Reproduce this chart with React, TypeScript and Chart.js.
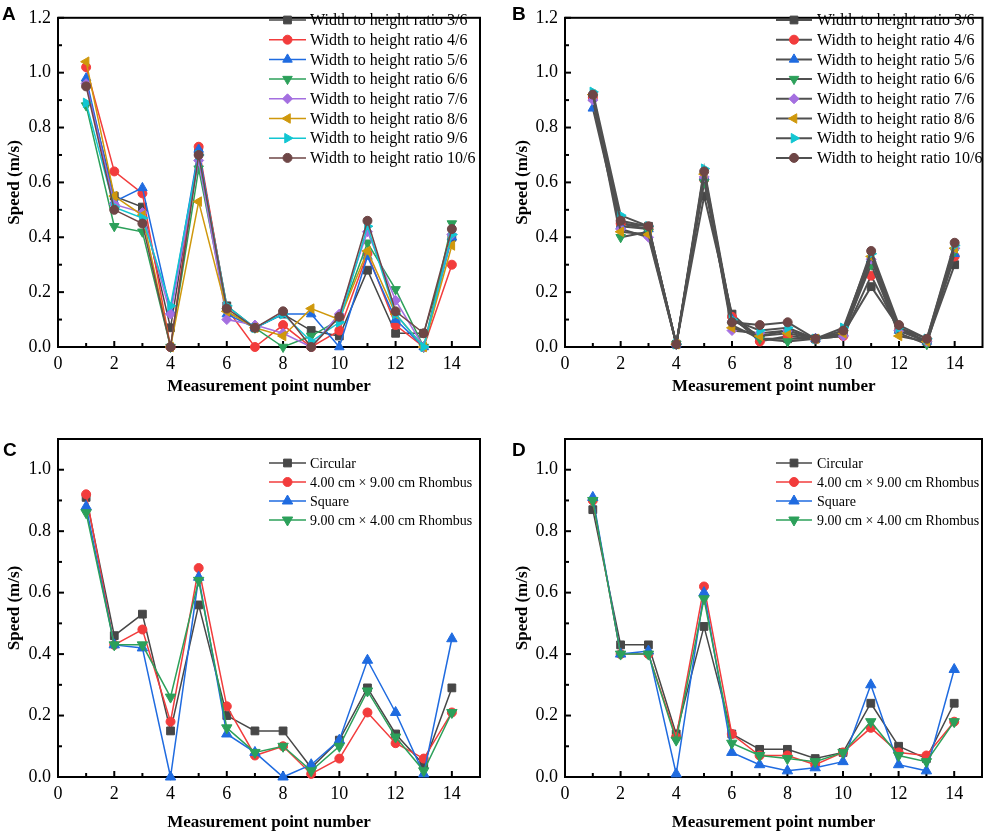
import React, { useEffect, useRef } from "react";
import { Chart, registerables } from "chart.js";

Chart.register(...registerables);

// ---------- data ----------
const pointNumbers = [1, 2, 3, 4, 5, 6, 7, 8, 9, 10, 11, 12, 13, 14];

const ratioNames = [
  "Width to height ratio 3/6",
  "Width to height ratio 4/6",
  "Width to height ratio 5/6",
  "Width to height ratio 6/6",
  "Width to height ratio 7/6",
  "Width to height ratio 8/6",
  "Width to height ratio 9/6",
  "Width to height ratio 10/6",
];
const shapeNames = ["Circular", "4.00 cm × 9.00 cm Rhombus", "Square", "9.00 cm × 4.00 cm Rhombus"];

// Panel A
const A_r3 = [0.96, 0.55, 0.51, 0.07, 0.71, 0.15, 0.07, 0.12, 0.06, 0.04, 0.28, 0.05, 0.05, 0.40];
const A_r4 = [1.02, 0.64, 0.56, 0.0, 0.73, 0.14, 0.0, 0.08, 0.0, 0.06, 0.34, 0.08, 0.0, 0.30];
const A_r5 = [0.98, 0.53, 0.58, 0.13, 0.72, 0.12, 0.07, 0.12, 0.12, 0.0, 0.33, 0.1, 0.0, 0.4];
const A_r6 = [0.88, 0.44, 0.42, 0.0, 0.65, 0.13, 0.07, 0.0, 0.04, 0.1, 0.38, 0.21, 0.0, 0.45];
const A_r7 = [0.96, 0.52, 0.49, 0.12, 0.68, 0.1, 0.08, 0.05, 0.0, 0.12, 0.42, 0.17, 0.0, 0.41];
const A_r8 = [1.04, 0.55, 0.48, 0.0, 0.53, 0.13, 0.07, 0.04, 0.14, 0.1, 0.35, 0.12, 0.0, 0.37];
const A_r9 = [0.89, 0.51, 0.47, 0.15, 0.7, 0.15, 0.07, 0.12, 0.02, 0.09, 0.44, 0.12, 0.0, 0.41];
const A_r10 = [0.95, 0.5, 0.45, 0.0, 0.7, 0.14, 0.07, 0.13, 0.0, 0.11, 0.46, 0.13, 0.05, 0.43];

// Panel B
const B_r3 = [0.91, 0.45, 0.44, 0.01, 0.55, 0.12, 0.03, 0.03, 0.03, 0.05, 0.22, 0.07, 0.02, 0.3];
const B_r4 = [0.91, 0.45, 0.43, 0.01, 0.61, 0.11, 0.02, 0.04, 0.03, 0.04, 0.26, 0.06, 0.02, 0.33];
const B_r5 = [0.87, 0.44, 0.43, 0.01, 0.62, 0.1, 0.04, 0.06, 0.03, 0.05, 0.32, 0.06, 0.02, 0.34];
const B_r6 = [0.91, 0.4, 0.42, 0.01, 0.6, 0.08, 0.03, 0.02, 0.03, 0.05, 0.3, 0.05, 0.01, 0.35];
const B_r7 = [0.9, 0.43, 0.4, 0.01, 0.62, 0.06, 0.05, 0.06, 0.03, 0.04, 0.32, 0.06, 0.02, 0.36];
const B_r8 = [0.92, 0.42, 0.41, 0.01, 0.63, 0.07, 0.04, 0.05, 0.03, 0.05, 0.33, 0.04, 0.02, 0.36];
const B_r9 = [0.93, 0.48, 0.44, 0.01, 0.65, 0.1, 0.06, 0.07, 0.03, 0.07, 0.34, 0.07, 0.03, 0.37];
const B_r10 = [0.92, 0.46, 0.44, 0.01, 0.64, 0.09, 0.08, 0.09, 0.03, 0.06, 0.35, 0.08, 0.03, 0.38];

// Panel C
const C_circular = [0.91, 0.46, 0.53, 0.15, 0.56, 0.2, 0.15, 0.15, 0.03, 0.12, 0.29, 0.14, 0.04, 0.29];
const C_rhombus49 = [0.92, 0.43, 0.48, 0.18, 0.68, 0.23, 0.07, 0.1, 0.01, 0.06, 0.21, 0.11, 0.06, 0.21];
const C_square = [0.88, 0.43, 0.42, 0.0, 0.65, 0.14, 0.08, 0.0, 0.04, 0.12, 0.38, 0.21, 0.01, 0.45];
const C_rhombus94 = [0.86, 0.43, 0.43, 0.26, 0.64, 0.16, 0.08, 0.1, 0.02, 0.1, 0.28, 0.13, 0.02, 0.21];

// Panel D
const D_circular = [0.87, 0.43, 0.43, 0.14, 0.49, 0.14, 0.09, 0.09, 0.06, 0.08, 0.24, 0.1, 0.06, 0.24];
const D_rhombus49 = [0.9, 0.4, 0.4, 0.13, 0.62, 0.14, 0.07, 0.07, 0.04, 0.08, 0.16, 0.08, 0.07, 0.18];
const D_square = [0.91, 0.4, 0.41, 0.01, 0.6, 0.08, 0.04, 0.02, 0.03, 0.05, 0.3, 0.04, 0.02, 0.35];
const D_rhombus94 = [0.9, 0.4, 0.4, 0.12, 0.58, 0.11, 0.07, 0.06, 0.05, 0.08, 0.18, 0.07, 0.05, 0.18];

// ---------- styles ----------
const ratioColors = ["#474747", "#f23c3c", "#1f6be0", "#2ca05a", "#a46fe0", "#cf980c", "#12c6d2", "#6e4646"];
const ratioStyles = ["rect", "circle", "triangle", "triangle", "rectRot", "triangle", "triangle", "circle"];
const ratioRotations = [0, 0, 0, 180, 0, 270, 90, 0];
const ratioRadii = [5.5, 4.5, 5.5, 5.5, 5, 5.5, 5.5, 4.5];
const shapeColors = ["#474747", "#f23c3c", "#1f6be0", "#2ca05a"];
const shapeStyles = ["rect", "circle", "triangle", "triangle"];
const shapeRotations = [0, 0, 0, 180];
const shapeRadii = [5.5, 4.5, 6, 6];

const SERIF = "'Liberation Serif', 'Times New Roman', serif";

function drawMarker(ctx: CanvasRenderingContext2D, style: string, x: number, y: number, r: number, rotDeg: number) {
  let rad = (rotDeg * Math.PI) / 180;
  ctx.beginPath();
  if (style === "circle") {
    ctx.arc(x, y, r, 0, Math.PI * 2);
  } else if (style === "rect") {
    const s = Math.SQRT1_2 * r;
    ctx.rect(x - s, y - s, 2 * s, 2 * s);
  } else if (style === "rectRot") {
    ctx.moveTo(x, y - r);
    ctx.lineTo(x + r, y);
    ctx.lineTo(x, y + r);
    ctx.lineTo(x - r, y);
    ctx.closePath();
  } else {
    ctx.moveTo(x + Math.sin(rad) * r, y - Math.cos(rad) * r);
    rad += (2 * Math.PI) / 3;
    ctx.lineTo(x + Math.sin(rad) * r, y - Math.cos(rad) * r);
    rad += (2 * Math.PI) / 3;
    ctx.lineTo(x + Math.sin(rad) * r, y - Math.cos(rad) * r);
    ctx.closePath();
  }
  ctx.fill();
  ctx.stroke();
}

const decorPlugin = {
  id: "decor",
  beforeDatasetsDraw(chart: any) {
    const { ctx, chartArea } = chart;
    const { left, top, right, bottom } = chartArea;
    const xs = chart.scales.x;
    const ys = chart.scales.y;
    ctx.save();
    ctx.strokeStyle = "#000";
    ctx.lineWidth = 2;
    ctx.strokeRect(left, top, right - left, bottom - top);
    const drawTicks = (scale: any, horizontal: boolean) => {
      const vals = scale.ticks.map((t: any) => t.value);
      const step = vals.length > 1 ? vals[1] - vals[0] : 1;
      const minors: number[] = [];
      vals.forEach((v: number) => {
        const m = v + step / 2;
        if (m < scale.max - 1e-6) minors.push(m);
      });
      const draw = (v: number, len: number) => {
        const p = scale.getPixelForValue(v);
        ctx.beginPath();
        if (horizontal) {
          ctx.moveTo(p, bottom);
          ctx.lineTo(p, bottom - len);
        } else {
          ctx.moveTo(left, p);
          ctx.lineTo(left + len, p);
        }
        ctx.stroke();
      };
      vals.forEach((v: number) => draw(v, 6));
      minors.forEach((v: number) => draw(v, 4));
    };
    drawTicks(xs, true);
    drawTicks(ys, false);
    ctx.restore();
  },
  afterDraw(chart: any) {
    const o = chart.options.plugins.decor;
    const { ctx } = chart;
    ctx.save();
    // panel letter
    ctx.fillStyle = "#000";
    ctx.font = "bold 19px 'Liberation Sans', Arial, sans-serif";
    ctx.textBaseline = "alphabetic";
    ctx.textAlign = "left";
    ctx.fillText(o.letter, o.letterX, o.letterY);
    // legend
    const lg = o.legend;
    ctx.font = `${lg.fontSize}px ${SERIF}`;
    ctx.textBaseline = "middle";
    chart.data.datasets.forEach((ds: any, i: number) => {
      const y = lg.y0 + i * lg.dy;
      ctx.strokeStyle = ds.borderColor;
      ctx.lineWidth = ds.borderWidth;
      ctx.beginPath();
      ctx.moveTo(lg.x0, y);
      ctx.lineTo(lg.x1, y);
      ctx.stroke();
      ctx.fillStyle = ds.pointBackgroundColor;
      ctx.strokeStyle = ds.pointBorderColor;
      ctx.lineWidth = 1;
      drawMarker(ctx, ds.pointStyle, (lg.x0 + lg.x1) / 2, y, ds.pointRadius, ds.pointRotation);
      ctx.fillStyle = "#000";
      ctx.fillText(ds.label, lg.tx, y + 1);
    });
    ctx.restore();
  },
};

type PanelCfg = {
  left: number;
  top: number;
  width: number;
  height: number;
  pad: { left: number; top: number; right: number; bottom: number };
  yWidth: number;
  xHeight: number;
  xTitlePadBottom: number;
  yMax: number;
  letter: string;
  letterX: number;
  letterY: number;
  legend: { x0: number; x1: number; tx: number; y0: number; dy: number; fontSize: number };
  names: string[];
  series: number[][];
  colors: string[];
  styles: string[];
  rotations: number[];
  radii: number[];
  lineColor?: string;
  lineWidth: number;
};

function buildConfig(p: PanelCfg): any {
  const datasets = p.series.map((vals, i) => ({
    label: p.names[i],
    data: pointNumbers.map((x, j) => ({ x, y: vals[j] })),
    borderColor: p.lineColor || p.colors[i],
    backgroundColor: p.colors[i],
    pointBackgroundColor: p.colors[i],
    pointBorderColor: p.colors[i],
    pointBorderWidth: 1,
    pointStyle: p.styles[i],
    pointRotation: p.rotations[i],
    pointRadius: p.radii[i],
    borderWidth: p.lineWidth,
    tension: 0,
    clip: false,
    order: p.series.length - i,
  }));
  return {
    type: "line",
    data: { datasets },
    plugins: [decorPlugin],
    options: {
      responsive: false,
      maintainAspectRatio: false,
      animation: false,
      events: [],
      layout: { padding: p.pad },
      plugins: {
        legend: { display: false },
        title: { display: false },
        tooltip: { enabled: false },
        decor: { letter: p.letter, letterX: p.letterX, letterY: p.letterY, legend: p.legend },
      },
      scales: {
        x: {
          type: "linear",
          min: 0,
          max: 15,
          grid: { display: false, drawTicks: false },
          border: { display: false },
          ticks: {
            stepSize: 2,
            includeBounds: false,
            autoSkip: false,
            maxRotation: 0,
            padding: 6,
            color: "#000",
            font: { family: SERIF, size: 18 },
            callback: (v: any) => String(Math.round(Number(v))),
          },
          title: {
            display: true,
            text: "Measurement point number",
            color: "#000",
            font: { family: SERIF, size: 17, weight: "bold" },
            padding: { top: 0, bottom: p.xTitlePadBottom },
          },
          afterFit: (s: any) => {
            s.height = p.xHeight;
          },
        },
        y: {
          type: "linear",
          min: 0,
          max: p.yMax,
          grid: { display: false, drawTicks: false },
          border: { display: false },
          ticks: {
            stepSize: 0.2,
            includeBounds: false,
            padding: 7,
            color: "#000",
            font: { family: SERIF, size: 18 },
            callback: (v: any) => Number(v).toFixed(1),
          },
          title: {
            display: true,
            text: "Speed (m/s)",
            color: "#000",
            font: { family: SERIF, size: 17, weight: "bold" },
            padding: { top: 4, bottom: 0 },
          },
          afterFit: (s: any) => {
            s.width = p.yWidth;
          },
        },
      },
    },
  };
}

const panels: PanelCfg[] = [
  {
    left: 0, top: 0, width: 494, height: 417,
    pad: { left: 0, top: 8, right: 14, bottom: 0 },
    yWidth: 58, xHeight: 70, xTitlePadBottom: 20, yMax: 1.2,
    letter: "A", letterX: 2, letterY: 20,
    legend: { x0: 269, x1: 306, tx: 310, y0: 20, dy: 19.7, fontSize: 16 },
    names: ratioNames,
    series: [A_r3, A_r4, A_r5, A_r6, A_r7, A_r8, A_r9, A_r10],
    colors: ratioColors, styles: ratioStyles, rotations: ratioRotations, radii: ratioRadii,
    lineWidth: 1.5,
  },
  {
    left: 494, top: 0, width: 495, height: 417,
    pad: { left: 14, top: 8, right: 4, bottom: 0 },
    yWidth: 57, xHeight: 70, xTitlePadBottom: 20, yMax: 1.2,
    letter: "B", letterX: 18, letterY: 20,
    legend: { x0: 282, x1: 318, tx: 323, y0: 20, dy: 19.7, fontSize: 16 },
    names: ratioNames,
    series: [B_r3, B_r4, B_r5, B_r6, B_r7, B_r8, B_r9, B_r10],
    colors: ratioColors, styles: ratioStyles, rotations: ratioRotations, radii: ratioRadii,
    lineColor: "#505050",
    lineWidth: 2,
  },
  {
    left: 0, top: 417, width: 494, height: 417,
    pad: { left: 0, top: 22, right: 14, bottom: 0 },
    yWidth: 58, xHeight: 57, xTitlePadBottom: 1, yMax: 1.1,
    letter: "C", letterX: 3, letterY: 39,
    legend: { x0: 269, x1: 306, tx: 310, y0: 46, dy: 19, fontSize: 14 },
    names: shapeNames,
    series: [C_circular, C_rhombus49, C_square, C_rhombus94],
    colors: shapeColors, styles: shapeStyles, rotations: shapeRotations, radii: shapeRadii,
    lineWidth: 1.5,
  },
  {
    left: 494, top: 417, width: 495, height: 417,
    pad: { left: 14, top: 22, right: 4, bottom: 0 },
    yWidth: 57, xHeight: 57, xTitlePadBottom: 1, yMax: 1.1,
    letter: "D", letterX: 18, letterY: 39,
    legend: { x0: 282, x1: 318, tx: 323, y0: 46, dy: 19, fontSize: 14 },
    names: shapeNames,
    series: [D_circular, D_rhombus49, D_square, D_rhombus94],
    colors: shapeColors, styles: shapeStyles, rotations: shapeRotations, radii: shapeRadii,
    lineWidth: 1.5,
  },
];

function Panel({ cfg }: { cfg: PanelCfg }) {
  const ref = useRef<HTMLCanvasElement | null>(null);
  useEffect(() => {
    if (!ref.current) return;
    const chart = new Chart(ref.current, buildConfig(cfg));
    return () => chart.destroy();
  }, [cfg]);
  return (
    <canvas
      ref={ref}
      width={cfg.width}
      height={cfg.height}
      style={{ position: "absolute", left: cfg.left, top: cfg.top, width: cfg.width, height: cfg.height }}
    />
  );
}

export default function App() {
  return (
    <div style={{ position: "absolute", left: 0, top: 0, width: 989, height: 834, background: "#fff", overflow: "hidden" }}>
      {panels.map((p) => (
        <Panel key={p.letter} cfg={p} />
      ))}
    </div>
  );
}
